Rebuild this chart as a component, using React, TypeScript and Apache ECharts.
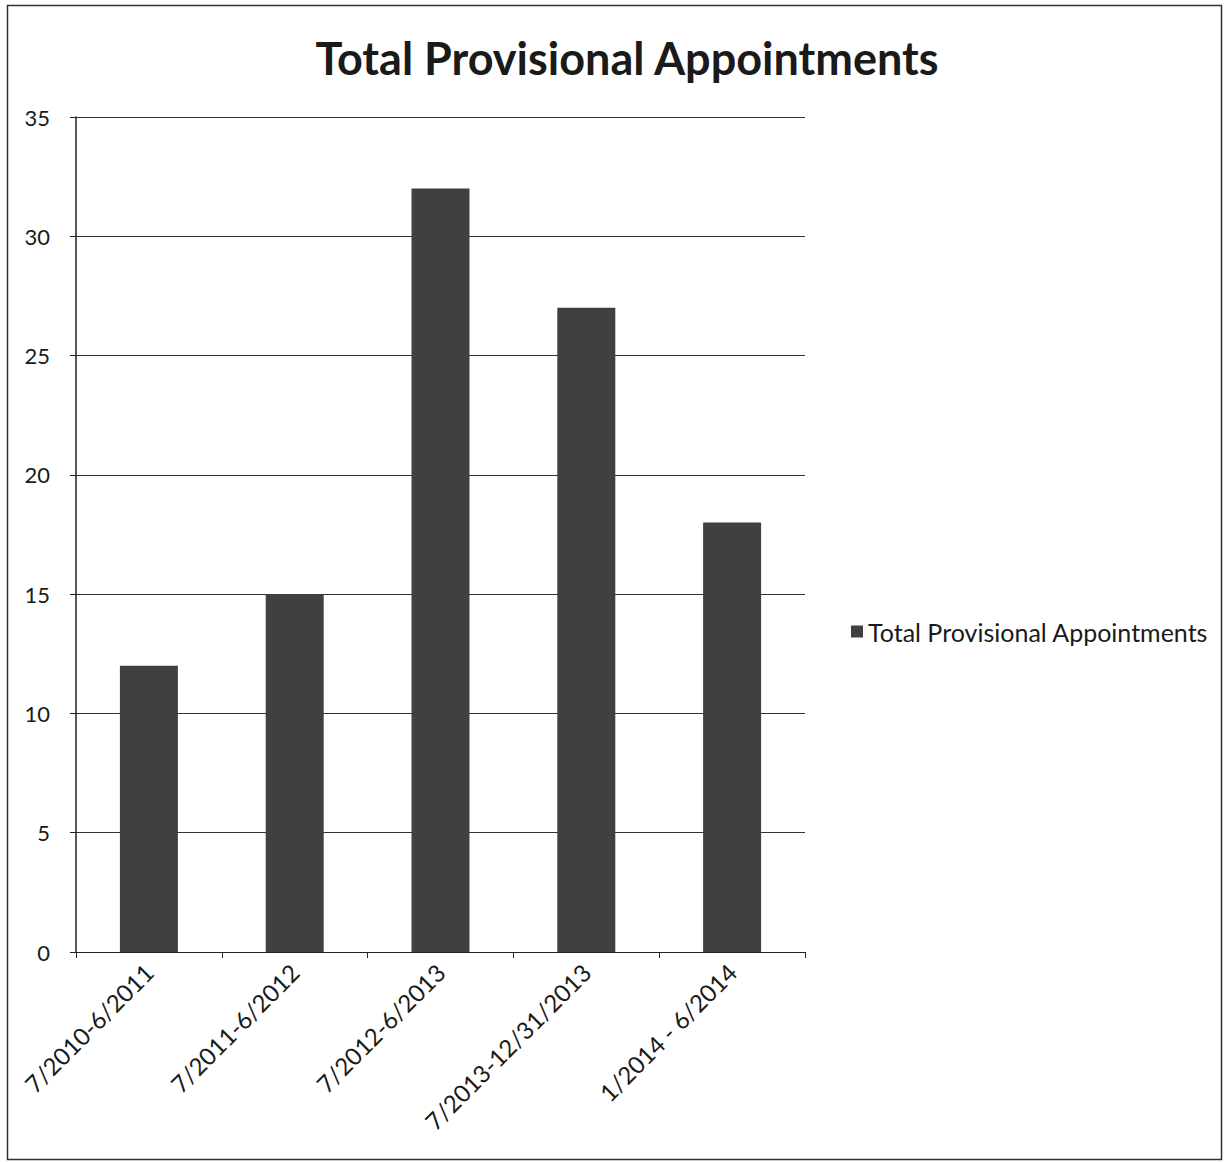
import React, { useEffect, useRef } from "react";
import * as echarts from "echarts";

const categories = ["7/2010-6/2011", "7/2011-6/2012", "7/2012-6/2013", "7/2013-12/31/2013", "1/2014 - 6/2014"];
const values = [12, 15, 32, 27, 18];
const seriesName = "Total Provisional Appointments";
const titleText = "Total Provisional Appointments";

const FONT = "Lato, 'Open Sans', sans-serif";

export default function App() {
  const ref = useRef<HTMLDivElement>(null);
  useEffect(() => {
    if (!ref.current) return;
    const chart = echarts.init(ref.current, null, { renderer: "svg" });
    chart.setOption({
      animation: false,
      backgroundColor: "#ffffff",
      textStyle: { fontFamily: FONT },
      title: {
        text: titleText,
        left: 622,
        textAlign: "center",
        top: 30,
        textStyle: { fontFamily: FONT, fontSize: 45, fontWeight: "bold", color: "#1a1a1a" },
      },
      graphic: [
        {
          type: "rect",
          shape: { x: 7.5, y: 5.5, width: 1214, height: 1154 },
          style: { fill: "none", stroke: "#333", lineWidth: 1.5 },
          silent: true,
        },
      ],
      legend: {
        orient: "vertical",
        left: 846,
        top: 614,
        itemWidth: 12,
        itemHeight: 12,
        itemGap: 8,
        icon: "rect",
        textStyle: { fontFamily: FONT, fontSize: 25, color: "#1a1a1a" },
        data: [seriesName],
      },
      grid: { left: 76, right: 423, top: 117, bottom: 210, containLabel: false },
      xAxis: {
        type: "category",
        data: categories,
        boundaryGap: true,
        axisLine: { lineStyle: { color: "#222", width: 1 } },
        axisTick: { show: true, length: 6, lineStyle: { color: "#222" } },
        axisLabel: {
          rotate: 45,
          margin: 16,
          fontSize: 24,
          color: "#1a1a1a",
          fontFamily: FONT,
          interval: 0,
        },
      },
      yAxis: {
        type: "value",
        min: 0,
        max: 35,
        interval: 5,
        axisLine: { show: true, lineStyle: { color: "#222", width: 1.5 } },
        axisTick: { show: true, length: 6, lineStyle: { color: "#222" } },
        axisLabel: { fontSize: 22, color: "#1a1a1a", fontFamily: FONT, margin: 26 },
        splitLine: { show: true, lineStyle: { color: "#333", width: 1 } },
      },
      series: [
        {
          name: seriesName,
          type: "bar",
          data: values,
          barWidth: 58,
          itemStyle: { color: "#404040" },
        },
      ],
    });
    return () => chart.dispose();
  }, []);
  return (
    <div
      ref={ref}
      style={{ position: "fixed", left: 0, top: 0, width: 1228, height: 1162 }}
    />
  );
}
